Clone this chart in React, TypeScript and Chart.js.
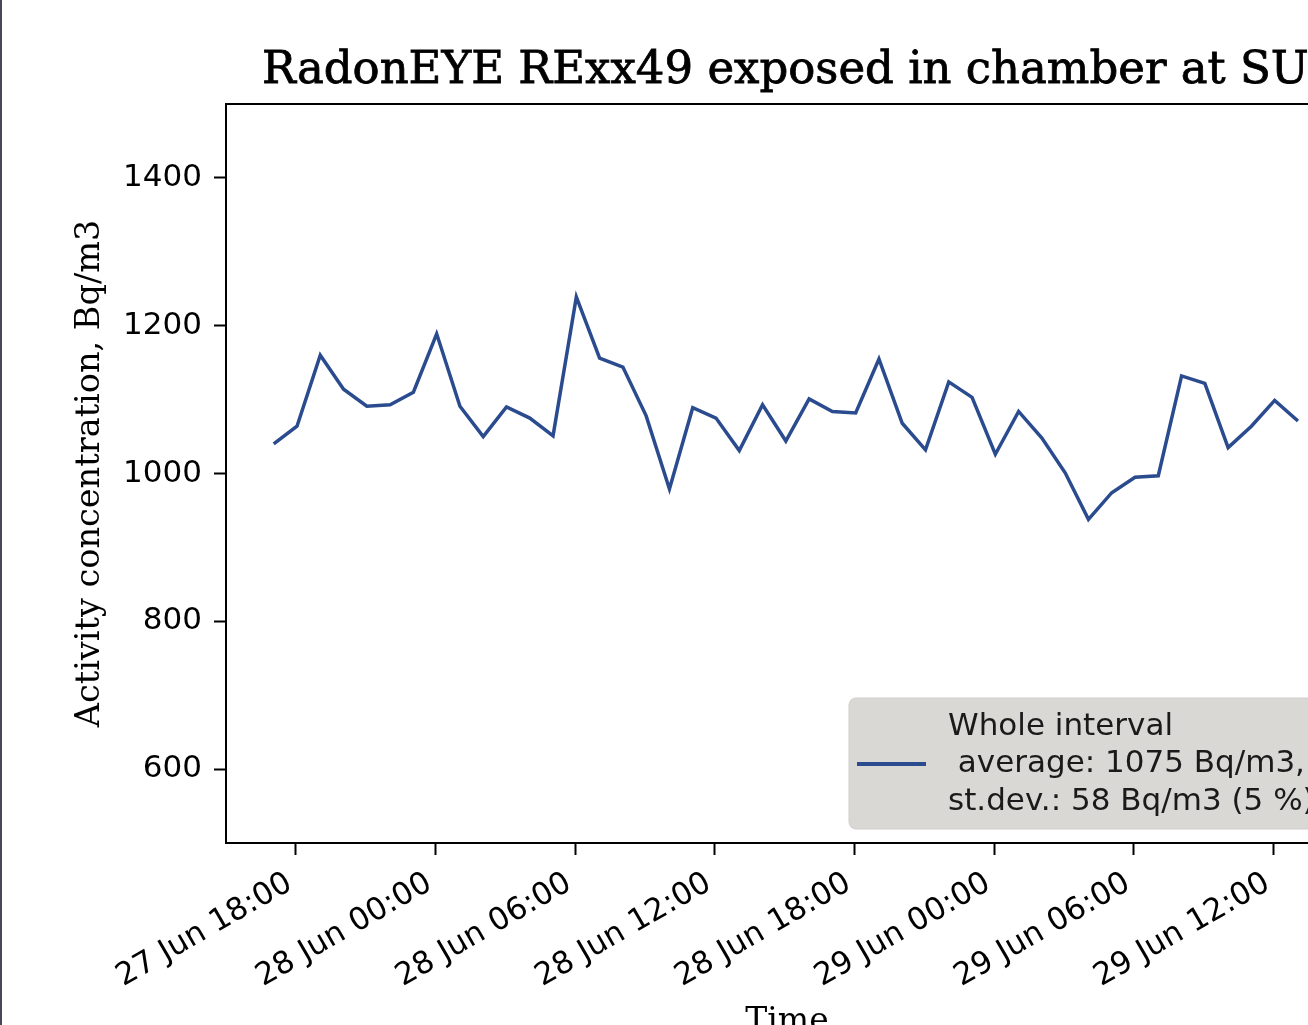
import React, { useEffect, useRef } from "react";
import { Chart, registerables } from "chart.js";

Chart.register(...registerables);

const TITLE = "RadonEYE RExx49 exposed in chamber at SURO";
const Y_LABEL = "Activity concentration, Bq/m3";
const X_LABEL = "Time";
const LEGEND_LINES = ["Whole interval", " average: 1075 Bq/m3,", "st.dev.: 58 Bq/m3 (5 %)"];

const TIMES = [
  "27 Jun 17:03", "27 Jun 18:03", "27 Jun 19:03", "27 Jun 20:03", "27 Jun 21:03", "27 Jun 22:03", "27 Jun 23:03",
  "28 Jun 00:03", "28 Jun 01:03", "28 Jun 02:03", "28 Jun 03:03", "28 Jun 04:03", "28 Jun 05:03", "28 Jun 06:03",
  "28 Jun 07:03", "28 Jun 08:03", "28 Jun 09:03", "28 Jun 10:03", "28 Jun 11:03", "28 Jun 12:03", "28 Jun 13:03",
  "28 Jun 14:03", "28 Jun 15:03", "28 Jun 16:03", "28 Jun 17:03", "28 Jun 18:03", "28 Jun 19:03", "28 Jun 20:03",
  "28 Jun 21:03", "28 Jun 22:03", "28 Jun 23:03", "29 Jun 00:03", "29 Jun 01:03", "29 Jun 02:03", "29 Jun 03:03",
  "29 Jun 04:03", "29 Jun 05:03", "29 Jun 06:03", "29 Jun 07:03", "29 Jun 08:03", "29 Jun 09:03", "29 Jun 10:03",
  "29 Jun 11:03", "29 Jun 12:03", "29 Jun 13:03",
];

const VALUES = [
  1040, 1064, 1160, 1114, 1091, 1093, 1110,
  1189, 1091, 1050, 1090, 1075, 1051, 1239,
  1156, 1144, 1078, 979, 1089, 1075, 1031,
  1093, 1044, 1101, 1084, 1082, 1155, 1068,
  1032, 1124, 1103, 1026, 1084, 1048, 1001,
  938, 974, 995, 997, 1132, 1122, 1035,
  1064, 1099, 1071,
];

const X_TICK_LABELS = [
  "27 Jun 18:00", "28 Jun 00:00", "28 Jun 06:00", "28 Jun 12:00",
  "28 Jun 18:00", "29 Jun 00:00", "29 Jun 06:00", "29 Jun 12:00",
];
const Y_TICKS = [600, 800, 1000, 1200, 1400];
const X_RANGE = ["27 Jun 15:00", "29 Jun 15:12"];
const Y_RANGE = [500, 1500];

const LINE_COLOR = "#2b4b8f";

// hours since 27 Jun 00:00
function parseTime(s: string): number {
  const [d, , hm] = s.split(" ");
  const [h, m] = hm.split(":").map(Number);
  return (Number(d) - 27) * 24 + h + m / 60;
}

const X_TICK_VALUES = X_TICK_LABELS.map(parseTime);

function formatTime(v: number): string {
  const idx = X_TICK_VALUES.findIndex((t) => Math.abs(t - v) < 1e-6);
  return idx >= 0 ? X_TICK_LABELS[idx] : "";
}

const TICK_FONT = { family: "'DejaVu Sans'", size: 31 };
const SERIF = "'DejaVu Serif'";

export default function App() {
  const ref = useRef<HTMLCanvasElement | null>(null);

  useEffect(() => {
    const canvas = ref.current;
    if (!canvas) return;

    const framePlugin = {
      id: "frame",
      afterDatasetsDraw(chart: any) {
        const { ctx, chartArea } = chart;
        ctx.save();
        ctx.strokeStyle = "#000";
        ctx.lineWidth = 2;
        ctx.strokeRect(chartArea.left, chartArea.top, chartArea.right - chartArea.left, chartArea.bottom - chartArea.top);
        ctx.restore();
      },
    };

    const titlePlugin = {
      id: "ttl",
      afterDraw(chart: any) {
        const { ctx } = chart;
        ctx.save();
        ctx.fillStyle = "#000";
        ctx.strokeStyle = "#000";
        ctx.lineWidth = 0.8;
        ctx.font = `45px ${SERIF}`;
        ctx.textAlign = "left";
        ctx.textBaseline = "alphabetic";
        ctx.fillText(TITLE, 262, 83);
        ctx.strokeText(TITLE, 262, 83);
        ctx.restore();
      },
    };

    const legendPlugin = {
      id: "lgd",
      afterDraw(chart: any) {
        const { ctx } = chart;
        ctx.save();
        const x = 849, y = 698, w = 560, h = 131, r = 7;
        ctx.beginPath();
        ctx.moveTo(x + r, y);
        ctx.lineTo(x + w - r, y);
        ctx.arcTo(x + w, y, x + w, y + r, r);
        ctx.lineTo(x + w, y + h - r);
        ctx.arcTo(x + w, y + h, x + w - r, y + h, r);
        ctx.lineTo(x + r, y + h);
        ctx.arcTo(x, y + h, x, y + h - r, r);
        ctx.lineTo(x, y + r);
        ctx.arcTo(x, y, x + r, y, r);
        ctx.closePath();
        ctx.fillStyle = "#d9d8d4";
        ctx.fill();
        ctx.strokeStyle = "#cfcecb";
        ctx.lineWidth = 1;
        ctx.stroke();

        ctx.strokeStyle = LINE_COLOR;
        ctx.lineWidth = 4;
        ctx.beginPath();
        ctx.moveTo(857, 764);
        ctx.lineTo(926, 764);
        ctx.stroke();

        ctx.fillStyle = "#1a1a1a";
        ctx.font = `31px 'DejaVu Sans'`;
        ctx.textBaseline = "alphabetic";
        ctx.textAlign = "left";
        const baselines = [735, 772, 810];
        LEGEND_LINES.forEach((t, i) => ctx.fillText(t, 948, baselines[i]));
        ctx.restore();
      },
    };

    const chart = new Chart(canvas, {
      type: "line",
      data: {
        datasets: [
          {
            label: LEGEND_LINES.join("\n"),
            data: TIMES.map((t, i) => ({ x: parseTime(t), y: VALUES[i] })),
            borderColor: LINE_COLOR,
            backgroundColor: LINE_COLOR,
            borderWidth: 3.5,
            pointRadius: 0,
            tension: 0,
            fill: false,
          },
        ],
      },
      options: {
        animation: false,
        responsive: false,
        devicePixelRatio: 1,
        layout: { padding: { left: 0, top: 104, right: 12, bottom: 0 } },
        plugins: { legend: { display: false }, tooltip: { enabled: false }, title: { display: false } },
        scales: {
          x: {
            type: "linear",
            min: parseTime(X_RANGE[0]),
            max: parseTime(X_RANGE[1]),
            afterFit: (s: any) => { s.height = 217; },
            afterBuildTicks: (s: any) => { s.ticks = X_TICK_VALUES.map((v) => ({ value: v })); },
            ticks: {
              callback: (v: any) => formatTime(Number(v)),
              minRotation: 30,
              maxRotation: 30,
              autoSkip: false,
              font: TICK_FONT,
              color: "#000",
              padding: 10,
              labelOffset: -6,
            },
            grid: { drawOnChartArea: false, drawTicks: true, tickLength: 12, tickWidth: 2, tickColor: "#000" },
            border: { display: false },
            title: {
              display: true,
              text: X_LABEL,
              font: { family: SERIF, size: 33 },
              color: "#000",
              padding: { top: 0, bottom: 18 },
            },
          },
          y: {
            min: Y_RANGE[0],
            max: Y_RANGE[1],
            afterFit: (s: any) => { s.width = 226; },
            afterBuildTicks: (s: any) => { s.ticks = Y_TICKS.map((v) => ({ value: v })); },
            ticks: { font: TICK_FONT, color: "#000", padding: 12, callback: (v: any) => String(v) },
            grid: { drawOnChartArea: false, drawTicks: true, tickLength: 12, tickWidth: 2, tickColor: "#000" },
            border: { display: false },
            title: {
              display: true,
              text: Y_LABEL,
              font: { family: SERIF, size: 33.5 },
              color: "#000",
              padding: { top: 70, bottom: 0 },
            },
          },
        },
      },
      plugins: [framePlugin, titlePlugin, legendPlugin],
    });

    return () => chart.destroy();
  }, []);

  return (
    <div style={{ position: "fixed", left: 0, top: 0, width: 1308, height: 1025, overflow: "hidden", background: "#fff" }}>
      <canvas ref={ref} width={1360} height={1060} style={{ position: "absolute", left: 0, top: 0, width: 1360, height: 1060 }} />
      <div style={{ position: "absolute", left: 0, top: 0, width: 2, height: 1025, background: "#48485a" }} />
    </div>
  );
}
